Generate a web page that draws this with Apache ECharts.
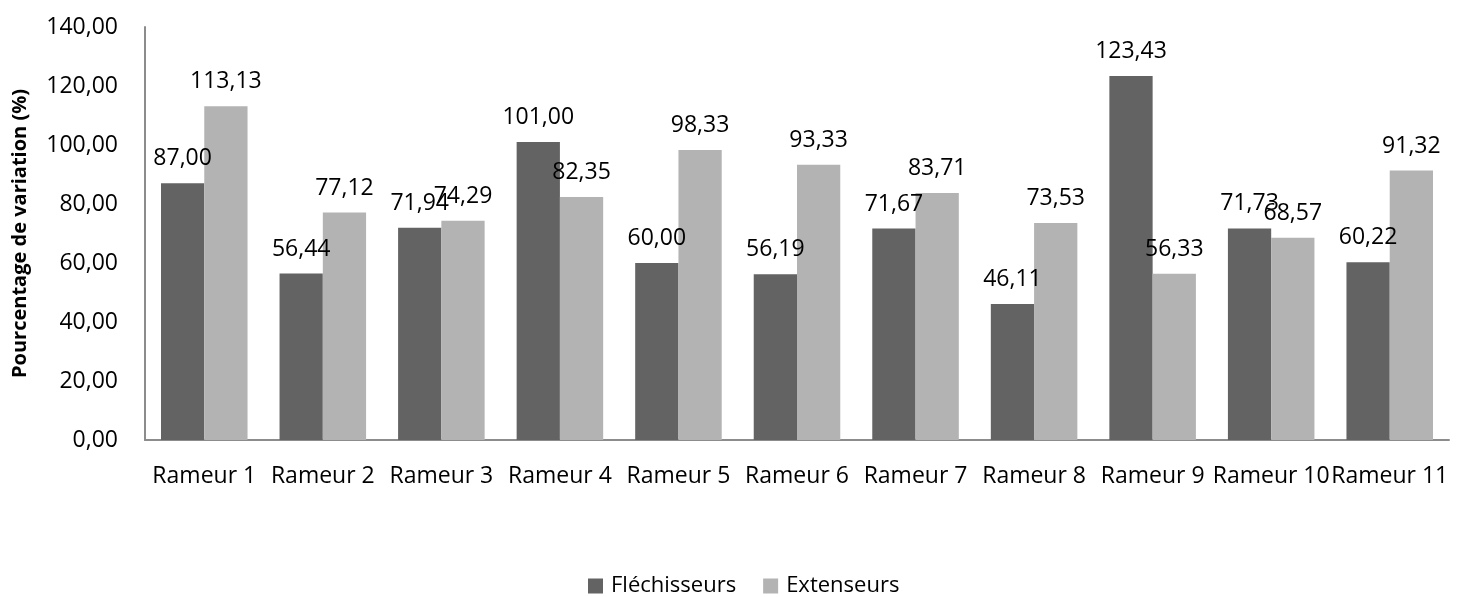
<!DOCTYPE html>
<html>
<head>
<meta charset="utf-8">
<script src="https://cdn.jsdelivr.net/npm/echarts@6/dist/echarts.min.js"></script>
<style>
  html, body { margin: 0; padding: 0; background: #fff; }
  #chart { width: 1461px; height: 597px; }
</style>
</head>
<body>
<div id="chart"></div>
<script>
// Rowers and the percentage variation for each muscle group
const categories = ['Rameur 1', 'Rameur 2', 'Rameur 3', 'Rameur 4', 'Rameur 5', 'Rameur 6',
                    'Rameur 7', 'Rameur 8', 'Rameur 9', 'Rameur 10', 'Rameur 11'];
const flechisseurs = [87.00, 56.44, 71.94, 101.00, 60.00, 56.19, 71.67, 46.11, 123.43, 71.73, 60.22];
const extenseurs = [113.13, 77.12, 74.29, 82.35, 98.33, 93.33, 83.71, 73.53, 56.33, 68.57, 91.32];
const seriesNames = ['Fléchisseurs', 'Extenseurs'];

const FONT = 'Open Sans';
const fmt = v => Number(v).toFixed(2).replace('.', ',');

const chart = echarts.init(document.getElementById('chart'), null, { renderer: 'canvas' });

const labelStyle = {
  show: true,
  position: 'top',
  distance: 13,
  color: '#000',
  fontFamily: FONT,
  fontSize: 23,
  formatter: p => fmt(p.value)
};

chart.setOption({
  animation: false,
  textStyle: { fontFamily: FONT },
  grid: { left: 145, right: 12, top: 27, bottom: 157, containLabel: false },
  legend: {
    top: 570,
    left: 583,
    itemWidth: 15,
    itemHeight: 15,
    itemGap: 27,
    icon: 'rect',
    textStyle: { fontFamily: FONT, fontSize: 22, color: '#000', padding: [0, 0, 0, 3] },
    data: seriesNames
  },
  xAxis: {
    type: 'category',
    data: categories,
    axisLine: { lineStyle: { color: '#8c8c8c', width: 2 } },
    axisTick: { show: false },
    axisLabel: { color: '#000', fontFamily: FONT, fontSize: 23, margin: 25, interval: 0 }
  },
  yAxis: {
    type: 'value',
    min: 0,
    max: 140,
    interval: 20,
    name: 'Pourcentage de variation (%)',
    nameLocation: 'middle',
    nameGap: 115,
    nameTextStyle: { fontFamily: FONT, fontSize: 20, fontWeight: 'bold', color: '#000' },
    axisLine: { show: true, lineStyle: { color: '#8c8c8c', width: 2 } },
    axisTick: { show: false },
    splitLine: { show: false },
    axisLabel: { color: '#000', fontFamily: FONT, fontSize: 23, margin: 27, formatter: v => fmt(v) }
  },
  series: [
    {
      name: seriesNames[0],
      type: 'bar',
      data: flechisseurs,
      barGap: '0%',
      barCategoryGap: '27%',
      itemStyle: { color: '#636363' },
      label: labelStyle
    },
    {
      name: seriesNames[1],
      type: 'bar',
      data: extenseurs,
      itemStyle: { color: '#b3b3b3' },
      label: labelStyle
    }
  ]
});
</script>
</body>
</html>
